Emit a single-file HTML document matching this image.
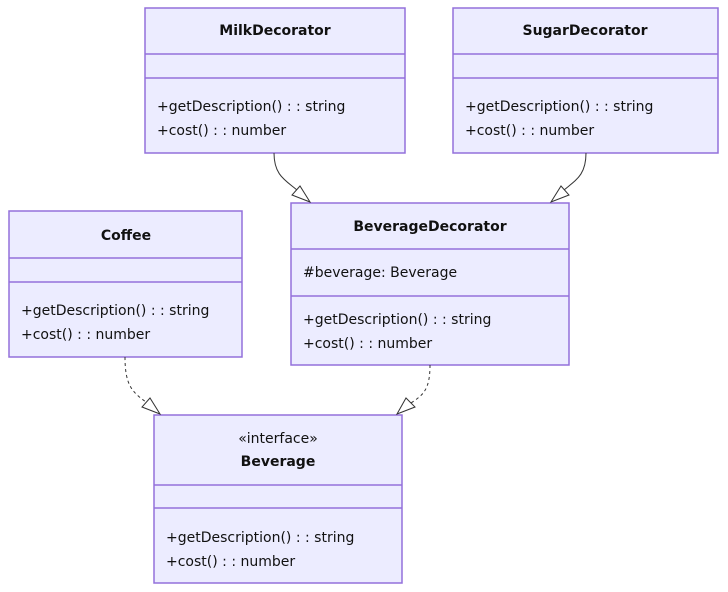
<!DOCTYPE html>
<html><head><meta charset="utf-8"><style>
html,body{margin:0;padding:0;background:#fff;}
svg{display:block;font-family:"DejaVu Sans","Liberation Sans",sans-serif;}
.b{fill:#ECECFF;stroke:#9370DB;stroke-width:1.5;}
.l{stroke:#9370DB;stroke-width:1.5;}
text{font-size:14px;fill:#111;}
.t{font-weight:bold;text-anchor:middle;}
.e{stroke:#333;fill:none;stroke-width:1;}
.a{fill:#fff;stroke:#333;stroke-width:1;}
</style></head><body>
<svg width="728" height="592" viewBox="0 0 728 592">
<!-- Milk -->
<rect class="b" x="145" y="8" width="260" height="145"/>
<line class="l" x1="145" y1="54" x2="405" y2="54"/><line class="l" x1="145" y1="78" x2="405" y2="78"/>
<text class="t" x="275" y="35">MilkDecorator</text>
<text x="157" y="111">+getDescription() : : string</text>
<text x="157" y="135">+cost() : : number</text>
<!-- Sugar -->
<rect class="b" x="453" y="8" width="265" height="145"/>
<line class="l" x1="453" y1="54" x2="718" y2="54"/><line class="l" x1="453" y1="78" x2="718" y2="78"/>
<text class="t" x="585" y="35">SugarDecorator</text>
<text x="465" y="111">+getDescription() : : string</text>
<text x="465" y="135">+cost() : : number</text>
<!-- Coffee -->
<rect class="b" x="9" y="211" width="233" height="146"/>
<line class="l" x1="9" y1="258" x2="242" y2="258"/><line class="l" x1="9" y1="282" x2="242" y2="282"/>
<text class="t" x="126" y="240">Coffee</text>
<text x="21" y="315">+getDescription() : : string</text>
<text x="21" y="339">+cost() : : number</text>
<!-- BevDec -->
<rect class="b" x="291" y="203" width="278" height="162"/>
<line class="l" x1="291" y1="249" x2="569" y2="249"/><line class="l" x1="291" y1="296" x2="569" y2="296"/>
<text class="t" x="430" y="231">BeverageDecorator</text>
<text x="303" y="277">#beverage: Beverage</text>
<text x="303" y="324">+getDescription() : : string</text>
<text x="303" y="348">+cost() : : number</text>
<!-- Beverage -->
<rect class="b" x="154" y="415" width="248" height="168"/>
<line class="l" x1="154" y1="485" x2="402" y2="485"/><line class="l" x1="154" y1="508" x2="402" y2="508"/>
<text x="278" y="443" style="text-anchor:middle">«interface»</text>
<text class="t" x="278" y="466">Beverage</text>
<text x="166" y="542">+getDescription() : : string</text>
<text x="166" y="566">+cost() : : number</text>
<!-- edges -->
<path class="e" d="M274,153 C274,175 285,180 297,190"/>
<polygon class="a" points="310,202 292,195 300,186"/>
<path class="e" d="M586,153 C586,175 576,180 564,190"/>
<polygon class="a" points="551,202 561,186 569,195"/>
<path class="e" stroke-dasharray="3,3" d="M125,357 C125,385 132,392 146,402"/>
<polygon class="a" points="160,414 142,407 150,398"/>
<path class="e" stroke-dasharray="3,3" d="M430,365 C430,390 423,395 411,403"/>
<polygon class="a" points="397,414 406,398 415,407"/>
</svg>
</body></html>
